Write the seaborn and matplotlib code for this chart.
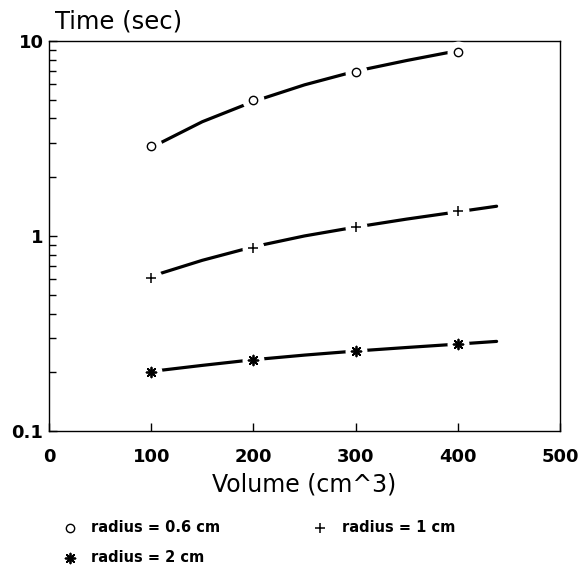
import matplotlib

matplotlib.use("Agg")

import matplotlib.pyplot as plt
import pandas as pd
import seaborn as sns
from matplotlib.ticker import FixedFormatter, FixedLocator, LogLocator, NullFormatter

# ---------------------------------------------------------------------------
# Data
# ---------------------------------------------------------------------------

volume = [100, 200, 300, 400]
time_r06 = [2.9, 4.95, 6.9, 8.8]
time_r1 = [0.61, 0.87, 1.11, 1.35]
time_r2 = [0.20, 0.23, 0.257, 0.28]

# fitted curves drawn through the points
fit_vol_r06 = [109, 150, 200, 250, 300, 350, 393]
fit_r06 = [3.0, 3.85, 4.89, 5.95, 6.99, 7.93, 8.76]
fit_vol = [110, 150, 200, 250, 300, 350, 400, 438]
fit_r1 = [0.645, 0.75, 0.88, 1.0, 1.11, 1.22, 1.33, 1.42]
fit_r2 = [0.205, 0.217, 0.232, 0.245, 0.257, 0.268, 0.279, 0.288]

labels = ["radius = 0.6 cm", "radius = 1 cm", "radius = 2 cm"]
y_ticks = [0.1, 1, 10]
y_ticklabels = ["0.1", "1", "10"]
x_ticks = [0, 100, 200, 300, 400, 500]

# ---------------------------------------------------------------------------
# Style
# ---------------------------------------------------------------------------

sns.set_theme(style="white")
plt.rcParams["font.family"] = ["DejaVu Sans"]
plt.rcParams["text.color"] = "black"
plt.rcParams["axes.labelcolor"] = "black"

fig = plt.figure(figsize=(5.78, 5.78), dpi=100)
ax = fig.add_axes([0.0848, 0.2543, 0.884, 0.675])

curves = [
    (fit_vol_r06, fit_r06),
    (fit_vol, fit_r1),
    (fit_vol, fit_r2),
]
for xs, ys in curves:
    sns.lineplot(
        data=pd.DataFrame({"v": xs, "t": ys}),
        x="v",
        y="t",
        sort=False,
        estimator=None,
        color="black",
        linewidth=2.3,
        ax=ax,
    )

points = [
    (time_r06, "o", dict(facecolor="white", edgecolor="black", linewidth=1.0, s=36)),
    (time_r1, "+", dict(color="black", linewidth=1.1, s=55)),
    (time_r2, (8, 2, 0), dict(color="black", linewidth=1.3, s=50)),
]
handles = []
for ys, marker, kw in points:
    # white disc under each marker breaks the curve around it
    ax.scatter(volume, ys, s=250, color="white", linewidth=0, zorder=4)
    sc = ax.scatter(volume, ys, marker=marker, zorder=5, **kw)
    handles.append(sc)

ax.set_yscale("log")
ax.set_ylim(0.1, 10)
ax.set_xlim(0, 500)

ax.yaxis.set_major_locator(FixedLocator(y_ticks))
ax.yaxis.set_major_formatter(FixedFormatter(y_ticklabels))
ax.yaxis.set_minor_locator(LogLocator(base=10, subs=range(2, 10)))
ax.yaxis.set_minor_formatter(NullFormatter())
ax.set_xticks(x_ticks)

ax.tick_params(axis="both", which="both", direction="in", colors="black",
               left=True, bottom=True, right=False, top=False)
ax.tick_params(axis="y", which="major", length=6, width=1, pad=4,
               labelsize=13)
ax.tick_params(axis="y", which="minor", length=5, width=1)
ax.tick_params(axis="x", which="major", length=6, width=1, pad=12,
               labelsize=13)
for lbl in ax.get_xticklabels() + ax.get_yticklabels():
    lbl.set_fontweight("bold")

for side in ax.spines.values():
    side.set_color("black")
    side.set_linewidth(1.0)

ax.set_xlabel("Volume (cm^3)", fontsize=17, labelpad=5)
ax.set_ylabel("")
fig.text(55 / 578, 1 - 21 / 578, "Time (sec)", fontsize=17.5, va="center",
         ha="left")

fig.legend(
    [handles[0], handles[2], handles[1]],
    [labels[0], labels[2], labels[1]],
    loc="upper left",
    bbox_to_anchor=(55 / 578, 1 - 513 / 578),
    ncol=2,
    frameon=False,
    borderpad=0,
    handlelength=1.0,
    handletextpad=1.0,
    columnspacing=6.3,
    labelspacing=1.0,
    scatterpoints=1,
    prop={"weight": "bold", "size": 10.5},
)

fig.savefig("out.png", dpi=100, facecolor="white")
